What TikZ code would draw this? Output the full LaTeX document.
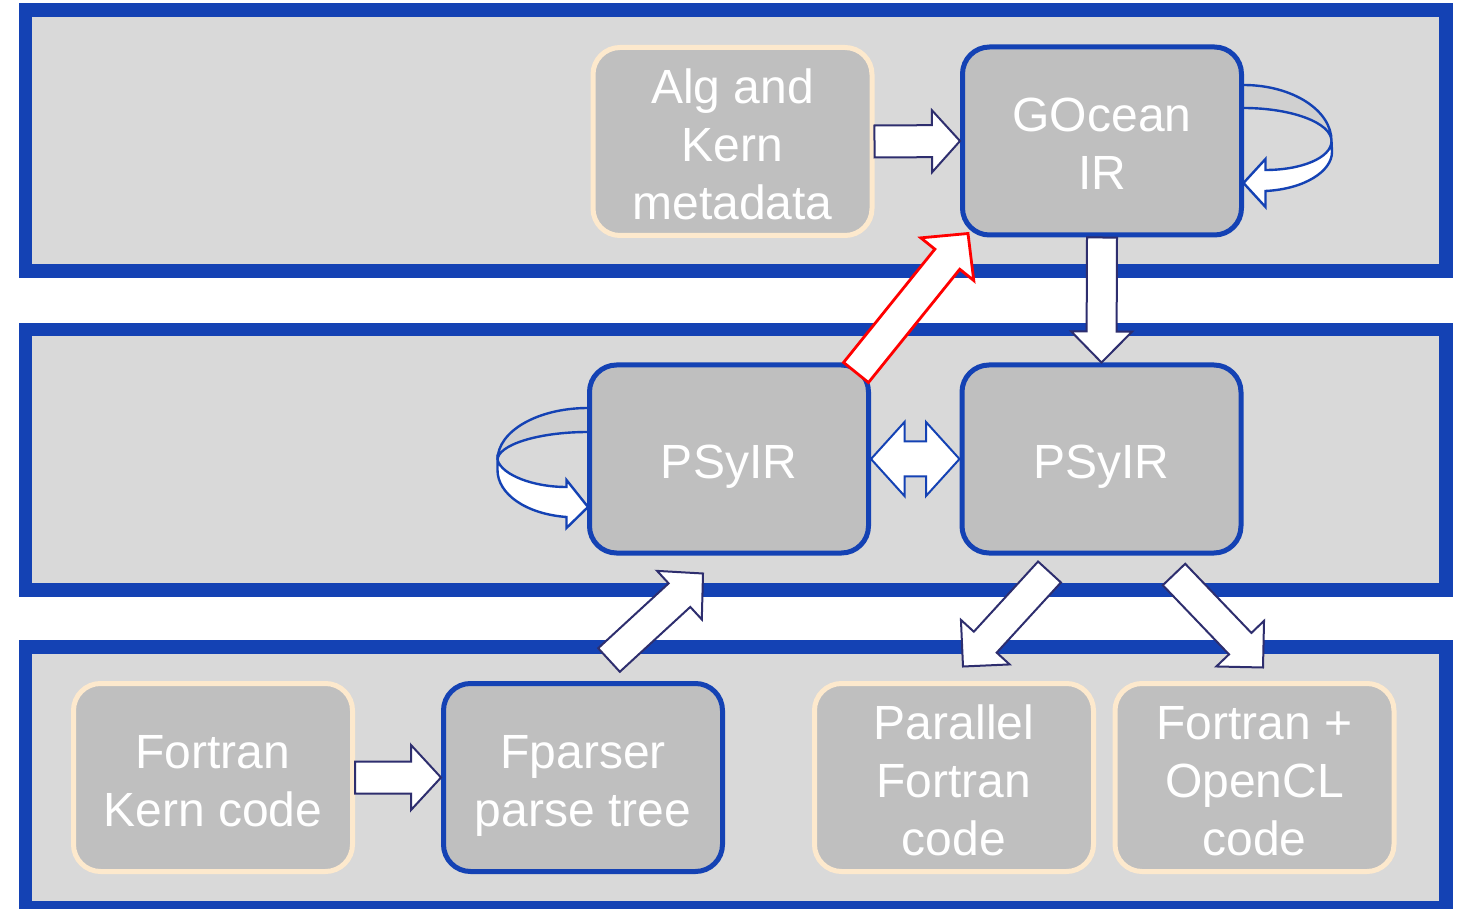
\documentclass[tikz,border=0pt]{standalone}
\usepackage{fontspec}
\setmainfont{Liberation Sans}
\usetikzlibrary{calc}

\definecolor{bandblue}{RGB}{20,66,180}
\definecolor{bandfill}{RGB}{217,217,217}
\definecolor{boxfill}{RGB}{191,191,191}
\definecolor{cream}{RGB}{253,233,205}
\definecolor{navy}{RGB}{46,46,110}
\definecolor{loopgrey}{RGB}{208,208,208}

% struts that fix the height of the first line of a box label
\newcommand\topstrut{\rule{0pt}{26pt}}

% Block arrow: [style]{tail}{tip}{shaft half-width}{head half-width}{head length}
\newcommand\blockarrow[6][]{%
  \coordinate (ba-h) at ($(#3)!#6!(#2)$);
  \draw[#1] ($(#2)!#4!90:(#3)$) -- ($(ba-h)!#4!90:(#3)$) -- ($(ba-h)!#5!90:(#3)$) -- (#3)
    -- ($(ba-h)!#5!-90:(#3)$) -- ($(ba-h)!#4!-90:(#3)$) -- ($(#2)!#4!-90:(#3)$) -- cycle;}

\begin{document}
\begin{tikzpicture}[x=0.5pt,y=-0.5pt,
  band/.style={draw=bandblue, fill=bandfill, line width=6.75pt},
  box/.style={rounded corners=13.5pt, minimum width=139.5pt, minimum height=94pt,
    fill=boxfill, line width=2.5pt, text=white, align=center, inner sep=0pt,
    font=\fontsize{24}{29}\selectfont,
    execute at end node={\rule[-6pt]{0pt}{0pt}}},
  bluebox/.style={box, draw=bandblue},
  creambox/.style={box, draw=cream},
  fat/.style={draw=navy, fill=white, line width=1pt, line join=miter},
  fatred/.style={draw=red, fill=white, line width=1.4pt, line join=miter},
  fatblue/.style={draw=bandblue, fill=white, line width=1pt, line join=miter},
  loopback/.style={draw=bandblue, fill=loopgrey, line width=1.2pt},
  loopfront/.style={draw=bandblue, fill=white, line width=1.2pt, line join=miter}]

\useasboundingbox (0,0) rectangle (1458,909);

% three layers
\draw[band] (25.5,10) rectangle (1446,271);
\draw[band] (25.5,329.5) rectangle (1446,590);
\draw[band] (25.5,647) rectangle (1446,908);

% self loop on the GOcean IR box
\begin{scope}[shift={(1243,141)}]
  \draw[loopback] (-4,-56) -- (0.5,-56) .. controls (49,-56) and (88.5,-31) .. (88.5,0)
    .. controls (88.5,-18) and (49,-33) .. (0.5,-33) -- (-4,-33) -- cycle;
  \draw[loopfront] (88.5,0) .. controls (88.5,17) and (58,29) .. (22.5,29)
    -- (22.5,18) -- (0.5,42) -- (22.5,66) -- (22.5,50)
    .. controls (62,48) and (89,30) .. (89,11) -- cycle;
\end{scope}

% self loop on the left PSyIR box
\begin{scope}[shift={(588,459)}]
  \draw[loopback] (4,-51) -- (0,-51) .. controls (-50,-51) and (-90.5,-28) .. (-90.5,1)
    .. controls (-90.5,-14) and (-50,-27) .. (0,-27) -- (4,-27) -- cycle;
  \draw[loopfront] (-90.5,1) .. controls (-86,16) and (-55,28) .. (-21.5,28)
    -- (-21.5,21) -- (0,48) -- (-21.5,69) -- (-21.5,58)
    .. controls (-62,55) and (-90.5,35) .. (-90.5,11) -- cycle;
\end{scope}

% boxes
\node[creambox] (alg) at (732.5,141.5) {\topstrut Alg and\\Kern\\metadata};
\node[bluebox]  (go)  at (1102,141) {\topstrut GOcean\\IR};
\node[bluebox]  (psl) at (729,459) {\topstrut PSyIR};
\node[bluebox]  (psr) at (1101.5,459) {\topstrut PSyIR};
\node[creambox] (fk)  at (213,777.5) {\topstrut Fortran\\Kern code};
\node[bluebox]  (fp)  at (583,777.5) {\topstrut Fparser\\parse tree};
\node[creambox] (pf)  at (954,777.5) {\topstrut Parallel\\Fortran\\code};
\node[creambox] (fo)  at (1254.5,777.5) {\topstrut Fortran +\\OpenCL\\code};

% arrow end points
\coordinate (red-t) at ($(psl.north east)+(-15,10)$);
\coordinate (red-h) at ($(go.south west)+(8,-4)$);
\coordinate (up-t)  at ($(fp.north)+(26,-21)$);
\coordinate (up-h)  at ($(psl.south)+(-26,18)$);
\coordinate (dl-t)  at ($(psr.south)+(-52,16.5)$);
\coordinate (dl-h)  at ($(pf.north)+(9,-14.5)$);
\coordinate (dr-t)  at ($(psr.south)+(72.5,19)$);
\coordinate (dr-h)  at ($(fo.north)+(8.5,-13.5)$);

% block arrows
\blockarrow[fat]{alg.east}{go.west}{8pt}{15.5pt}{14pt}
\blockarrow[fat]{go.south}{psr.north}{7.5pt}{15.25pt}{15.5pt}
\blockarrow[fat]{fk.east}{fp.west}{8pt}{16.25pt}{15pt}
\blockarrow[fat]{up-t}{up-h}{8pt}{16.5pt}{16pt}
\blockarrow[fat]{dl-t}{dl-h}{7.75pt}{16.5pt}{16.5pt}
\blockarrow[fat]{dr-t}{dr-h}{7.75pt}{16.5pt}{16.5pt}
\blockarrow[fatred]{red-t}{red-h}{8pt}{17pt}{16.5pt}

% two-way arrow between the PSyIR boxes
\coordinate (dbl-l) at (psl.east);
\coordinate (dbl-r) at (psr.west);
\coordinate (dbl-lh) at ($(dbl-l)!16.75pt!(dbl-r)$);
\coordinate (dbl-rh) at ($(dbl-r)!16.75pt!(dbl-l)$);
\draw[fatblue] (dbl-l) -- ($(dbl-lh)!18.5pt!90:(dbl-r)$) -- ($(dbl-lh)!8.75pt!90:(dbl-r)$)
  -- ($(dbl-rh)!8.75pt!-90:(dbl-l)$) -- ($(dbl-rh)!18.5pt!-90:(dbl-l)$) -- (dbl-r)
  -- ($(dbl-rh)!18.5pt!90:(dbl-l)$) -- ($(dbl-rh)!8.75pt!90:(dbl-l)$)
  -- ($(dbl-lh)!8.75pt!-90:(dbl-r)$) -- ($(dbl-lh)!18.5pt!-90:(dbl-r)$) -- cycle;

\end{tikzpicture}
\end{document}
